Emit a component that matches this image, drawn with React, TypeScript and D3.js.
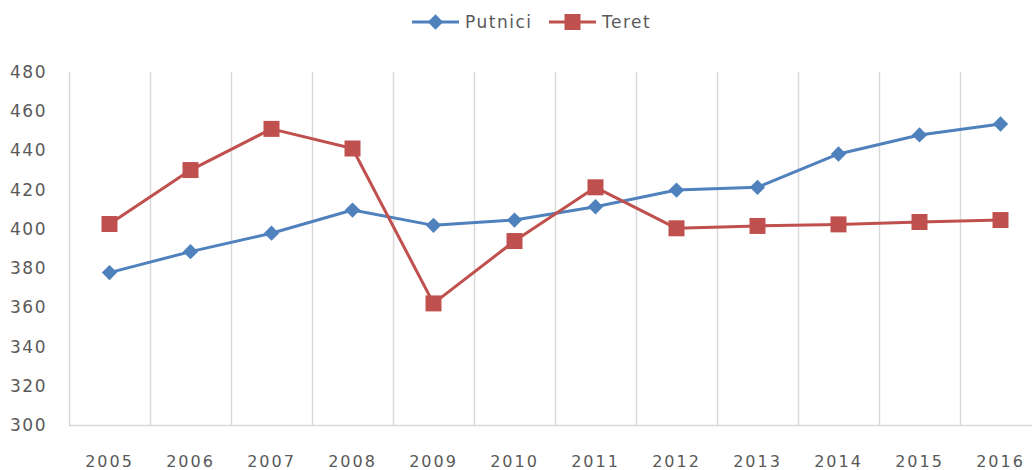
import React, { useRef, useEffect } from 'react';
import * as d3 from 'd3';

const years = ['2005', '2006', '2007', '2008', '2009', '2010', '2011', '2012', '2013', '2014', '2015', '2016'];
const putnici = [377.7, 388.4, 397.8, 409.6, 401.8, 404.5, 411.3, 419.8, 421.2, 438.2, 447.9, 453.5];
const teret = [402.5, 430, 451, 441, 362, 393.8, 421.2, 400.3, 401.5, 402.3, 403.5, 404.5];
const yTicks = [300, 320, 340, 360, 380, 400, 420, 440, 460, 480];

const BLUE = '#4F81BD';
const RED = '#C0504D';
const GRID = '#D9D9D9';
const TEXT = '#595959';
const FONT = '"DejaVu Sans", Verdana, sans-serif';

const App = () => {
  const svgRef = useRef<SVGSVGElement>(null);

  useEffect(() => {
    document.body.style.margin = '0';
    const width = 1032;
    const height = 470;
    const marginLeft = 69;
    const marginTop = 72;
    const plotBottom = 425;

    const svg = d3.select(svgRef.current);
    svg.selectAll('*').remove();

    const x = d3.scaleBand<string>()
      .domain(years)
      .range([marginLeft, marginLeft + 81 * years.length]);

    const y = d3.scaleLinear()
      .domain([300, 480])
      .range([plotBottom, marginTop]);

    // vertical gridlines at category boundaries
    const bounds = years.map(d => x(d) as number);
    svg.append('g')
      .selectAll('line')
      .data(bounds)
      .join('line')
      .attr('x1', d => d + 0.5)
      .attr('x2', d => d + 0.5)
      .attr('y1', marginTop)
      .attr('y2', plotBottom)
      .attr('stroke', GRID)
      .attr('stroke-width', 1.5);

    // bottom axis line
    svg.append('line')
      .attr('x1', marginLeft)
      .attr('x2', width)
      .attr('y1', plotBottom + 0.5)
      .attr('y2', plotBottom + 0.5)
      .attr('stroke', GRID)
      .attr('stroke-width', 1.5);

    // y labels
    svg.append('g')
      .selectAll('text')
      .data(yTicks)
      .join('text')
      .attr('x', 47)
      .attr('y', d => y(d))
      .attr('dy', '0.35em')
      .attr('text-anchor', 'end')
      .attr('fill', TEXT)
      .style('font-family', FONT)
      .style('font-size', '17px')
      .style('letter-spacing', '1.5px')
      .text(d => d);

    // x labels
    svg.append('g')
      .selectAll('text')
      .data(years)
      .join('text')
      .attr('x', d => (x(d) as number) + x.bandwidth() / 2)
      .attr('y', 461)
      .attr('dy', '0.35em')
      .attr('text-anchor', 'middle')
      .attr('fill', TEXT)
      .style('font-family', FONT)
      .style('font-size', '16px')
      .style('letter-spacing', '2px')
      .text(d => d);

    const cx = (i: number) => (x(years[i]) as number) + x.bandwidth() / 2;
    const line = d3.line<number>()
      .x((d, i) => cx(i))
      .y(d => y(d));

    const series = [
      { name: 'Putnici', values: putnici, color: BLUE, marker: 'diamond' },
      { name: 'Teret', values: teret, color: RED, marker: 'square' },
    ];

    const diamond = d3.symbol().type(d3.symbolDiamond2).size(150);
    const square = (s: number) => `M${-s / 2},${-s / 2}h${s}v${s}h${-s}Z`;

    series.forEach(s => {
      svg.append('path')
        .datum(s.values)
        .attr('fill', 'none')
        .attr('stroke', s.color)
        .attr('stroke-width', 3)
        .attr('stroke-linejoin', 'round')
        .attr('d', line);

      svg.append('g')
        .selectAll('path')
        .data(s.values)
        .join('path')
        .attr('transform', (d, i) => `translate(${cx(i)},${y(d)})`)
        .attr('fill', s.color)
        .attr('d', s.marker === 'diamond' ? (diamond() as string) : square(16));
    });

    // legend
    const legend = svg.append('g');
    const items = [
      { name: 'Putnici', color: BLUE, marker: 'diamond', x0: 412 },
      { name: 'Teret', color: RED, marker: 'square', x0: 549 },
    ];
    items.forEach(it => {
      legend.append('line')
        .attr('x1', it.x0)
        .attr('x2', it.x0 + 47)
        .attr('y1', 22)
        .attr('y2', 22)
        .attr('stroke', it.color)
        .attr('stroke-width', 3);
      legend.append('path')
        .attr('transform', `translate(${it.x0 + 23.5},22)`)
        .attr('fill', it.color)
        .attr('d', it.marker === 'diamond' ? (diamond() as string) : square(16));
      legend.append('text')
        .attr('x', it.x0 + 53)
        .attr('y', 22)
        .attr('dy', '0.35em')
        .attr('fill', TEXT)
        .style('font-family', FONT)
        .style('font-size', '17px')
        .style('letter-spacing', '1.5px')
        .text(it.name);
    });
  }, []);

  return <svg ref={svgRef} width={1032} height={470} style={{ display: 'block', background: '#fff' }} />;
};

export default App;
